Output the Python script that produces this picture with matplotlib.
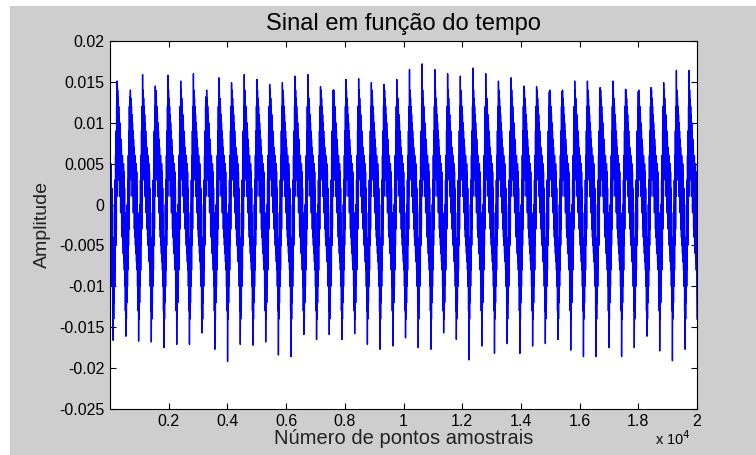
import numpy as np
import matplotlib
matplotlib.use("Agg")
import matplotlib.pyplot as plt
from matplotlib.patches import Rectangle

# one pitch period of the signal (48 samples, 0 = positive peak)
period_shape = [0.015, 0.006, 0.014, 0.005, 0.013, 0.003, 0.012, 0.004, 0.011, 0.001,
                0.010, 0.002, 0.009, -0.001, 0.008, 0.000, 0.007, -0.003, 0.006, -0.004,
                0.006, -0.005, 0.005, -0.006, 0.005, -0.007, 0.004, -0.008, 0.002, -0.010,
                -0.001, -0.013, -0.006, -0.016, -0.009, -0.014, -0.004, -0.012, 0.000, -0.010,
                0.003, -0.008, 0.006, -0.005, 0.009, -0.003, 0.012, 0.001]
pos_idx = 0
neg_idx = 33

# peak of every period, read left to right
pos_peaks = [0.0151, 0.0132, 0.0159, 0.0145, 0.0158, 0.0151, 0.0160, 0.0132, 0.0155, 0.0149,
             0.0159, 0.0153, 0.0147, 0.0149, 0.0157, 0.0159, 0.0144, 0.0140, 0.0153, 0.0154,
             0.0149, 0.0147, 0.0153, 0.0165, 0.0172, 0.0165, 0.0160, 0.0157, 0.0167, 0.0160,
             0.0151, 0.0155, 0.0145, 0.0144, 0.0138, 0.0138, 0.0151, 0.0151, 0.0143, 0.0151,
             0.0141, 0.0138, 0.0143, 0.0149, 0.0164, 0.0164]
neg_peaks = [-0.0166, -0.0161, -0.0167, -0.0168, -0.0175, -0.0171, -0.0171, -0.0157, -0.0177, -0.0192,
             -0.0171, -0.0172, -0.0168, -0.0184, -0.0186, -0.0159, -0.0165, -0.0159, -0.0165, -0.0158,
             -0.0171, -0.0177, -0.0173, -0.0163, -0.0175, -0.0177, -0.0157, -0.0165, -0.0190, -0.0173,
             -0.0182, -0.0170, -0.0182, -0.0173, -0.0170, -0.0165, -0.0178, -0.0186, -0.0186, -0.0175,
             -0.0186, -0.0175, -0.0161, -0.0179, -0.0191, -0.0177]

first_peak = 245      # sample of first positive peak
period = 433          # samples per pitch period
n_samples = 20000

# build the signal period by period
n = len(period_shape)
x_list, y_list = [], []
for k in range(-1, len(pos_peaks)):
    for j in range(n):
        xs = first_peak + (k + j / n) * period
        if xs < 1 or xs > n_samples:
            continue
        v = period_shape[j]
        if j == pos_idx and k >= 0:
            v = pos_peaks[k]
        elif j == neg_idx and k + 1 < len(neg_peaks):
            v = neg_peaks[k + 1]
        x_list.append(xs)
        y_list.append(v)
# last sample drops down at the right edge
x_list.append(n_samples)
y_list.append(-0.014)

plt.rcParams['font.family'] = ['Liberation Sans', 'DejaVu Sans']

fig = plt.figure(figsize=(7.56, 4.55), dpi=100, facecolor='white')
fig.patches.append(Rectangle((10 / 756, 0), 1, 1 - 6 / 455, transform=fig.transFigure,
                             facecolor='#cecece', edgecolor='none', zorder=-10))
ax = fig.add_axes([0.1455, 0.1011, 0.7765, 0.8088])
ax.plot(x_list, y_list, color='#0000ff', lw=1.0)

ax.set_xlim(1, n_samples)
ax.set_ylim(-0.025, 0.02)
xt = np.arange(2000, 20001, 2000)
ax.set_xticks(xt)
ax.set_xticklabels(['%g' % (v / 1e4) for v in xt])
yt = np.arange(-0.025, 0.0201, 0.005)
ax.set_yticks(yt)
ax.set_yticklabels(['%g' % round(v, 3) for v in yt])
ax.tick_params(direction='in', top=True, right=True, labelsize=11.5, length=4, colors='black')
ax.tick_params(axis='y', pad=4)
for s in ax.spines.values():
    s.set_linewidth(0.8)

ax.set_title('Sinal em função do tempo', fontsize=17, pad=8)
ax.set_xlabel('Número de pontos amostrais', fontsize=14.5, color='#222222', labelpad=0)
ax.set_ylabel('Amplitude', fontsize=14, color='#222222', labelpad=6)
fig.text(0.866, 0.022, r'x 10$^4$', fontsize=10.5)

fig.savefig('out.png', dpi=100, facecolor=fig.get_facecolor())
